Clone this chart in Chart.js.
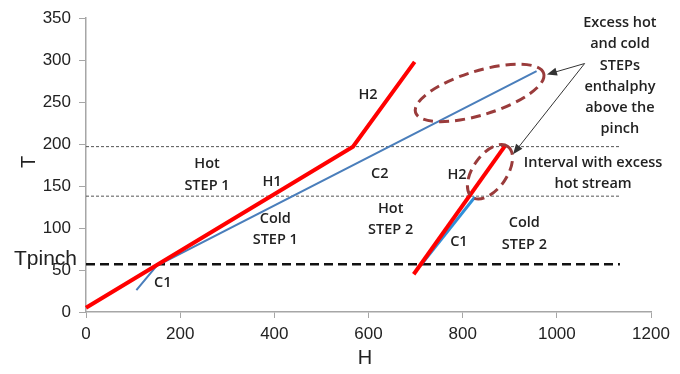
<!DOCTYPE html>
<html>
<head>
<meta charset="utf-8">
<script src="https://cdn.jsdelivr.net/npm/chart.js@4.4.1/dist/chart.umd.min.js"></script>
<style>
  html, body { margin: 0; padding: 0; background: #fff; }
  #wrap { width: 680px; height: 374px; }
</style>
</head>
<body>
<div id="wrap"><canvas id="chart" width="680" height="374"></canvas></div>
<script>
// Curvas calientes (H, T)
const hot1H = [0, 567, 698];
const hot1T = [5, 197, 298];
const hot2H = [696, 890];
const hot2T = [45, 198];
// Curvas frías (H, T)
const cold1H = [107, 150, 957];
const cold1T = [26, 55, 287];
const cold2H = [713, 826];
const cold2T = [57, 137];
// Líneas horizontales
const pinchT = 57;
const stepT = [138, 197];
const lineH = [0, 1134];
// Ticks de los ejes
const xTicks = [0, 200, 400, 600, 800, 1000, 1200];
const yTicks = [0, 50, 100, 150, 200, 250, 300, 350];

const pts = (hs, ts) => hs.map((h, i) => ({ x: h, y: ts[i] }));
const flat = t => lineH.map(h => ({ x: h, y: t }));

// Etiquetas de texto [líneas, H, T]
const labels = [
    [['Hot', 'STEP 1'], 257, 163.5],
    [['H1'], 395, 155],
    [['Cold', 'STEP 1'], 402, 98.6],
    [['C1'], 163, 35],
    [['H2'], 599, 259],
    [['C2'], 624, 165],
    [['H2'], 788, 163.5],
    [['Hot', 'STEP 2'], 647, 110],
    [['C1'], 792, 84],
    [['Cold', 'STEP 2'], 931, 93],
    [['Excess hot', 'and cold', 'STEPs', 'enthalphy', 'above the', 'pinch'], 1134, 281],
    [['Interval with excess', 'hot stream'], 1077, 165]
];

// Elipses [H, T, rx, ry, ángulo]
const ellipses = [
    [836, 261, 67, 22, -17],
    [858, 167, 31, 17, -55]
];
// Flechas [desde H, T, hasta H, T]
const arrows = [
    [1059, 296, 979, 283],
    [1059, 296, 907, 188]
];

const annotPlugin = {
    id: 'annot',
    afterDatasetsDraw(chart) {
        const ctx = chart.ctx;
        const xs = chart.scales.x, ys = chart.scales.y;
        const px = h => xs.getPixelForValue(h);
        const py = t => ys.getPixelForValue(t);
        ctx.save();

        // elipses punteadas
        ctx.strokeStyle = '#9a3b3b';
        ctx.lineWidth = 3;
        ctx.setLineDash([10, 6]);
        ellipses.forEach(e => {
            ctx.beginPath();
            ctx.ellipse(px(e[0]), py(e[1]), e[2], e[3], e[4] * Math.PI / 180, 0, Math.PI * 2);
            ctx.stroke();
        });
        ctx.setLineDash([]);

        // flechas
        ctx.strokeStyle = '#333';
        ctx.fillStyle = '#333';
        ctx.lineWidth = 1;
        arrows.forEach(a => {
            const x1 = px(a[0]), y1 = py(a[1]), x2 = px(a[2]), y2 = py(a[3]);
            const ang = Math.atan2(y2 - y1, x2 - x1);
            ctx.beginPath();
            ctx.moveTo(x1, y1);
            ctx.lineTo(x2 - 8 * Math.cos(ang), y2 - 8 * Math.sin(ang));
            ctx.stroke();
            ctx.beginPath();
            ctx.moveTo(x2, y2);
            ctx.lineTo(x2 - 10 * Math.cos(ang) + 4 * Math.sin(ang), y2 - 10 * Math.sin(ang) - 4 * Math.cos(ang));
            ctx.lineTo(x2 - 10 * Math.cos(ang) - 4 * Math.sin(ang), y2 - 10 * Math.sin(ang) + 4 * Math.cos(ang));
            ctx.closePath();
            ctx.fill();
        });

        // textos
        ctx.fillStyle = '#222';
        ctx.font = '600 14.5px "Open Sans"';
        ctx.textAlign = 'center';
        ctx.textBaseline = 'middle';
        labels.forEach(l => {
            const lines = l[0];
            const cy = py(l[2]) - (lines.length - 1) * 21.3 / 2;
            lines.forEach((s, i) => ctx.fillText(s, px(l[1]), cy + i * 21.3));
        });

        // Tpinch y títulos de ejes
        ctx.fillStyle = '#222';
        ctx.font = '21px "Liberation Sans"';
        ctx.textAlign = 'right';
        ctx.textBaseline = 'alphabetic';
        ctx.fillText('Tpinch', xs.left - 9, py(pinchT) + 1);
        ctx.textAlign = 'center';
        ctx.textBaseline = 'middle';
        ctx.font = '20px "Liberation Sans"';
        ctx.fillText('H', 365, 358);
        ctx.translate(29, 162);
        ctx.rotate(-Math.PI / 2);
        ctx.fillText('T', 0, 0);
        ctx.restore();
    }
};

const line = (data, color, width, dash) => ({
    data, borderColor: color, borderWidth: width, borderDash: dash || [],
    showLine: true, pointRadius: 0, fill: false, clip: false, tension: 0
});

new Chart(document.getElementById('chart'), {
    type: 'scatter',
    data: {
        datasets: [
            line(pts(hot1H, hot1T), '#ff0000', 4),
            line(pts(hot2H, hot2T), '#ff0000', 4),
            line(pts(cold2H, cold2T), '#2f8fd8', 3),
            line(pts(cold1H, cold1T), '#4a7ebb', 2),
            line(flat(pinchT), '#111', 2.5, [9, 5]),
            line(flat(stepT[0]), '#555', 1, [3, 2]),
            line(flat(stepT[1]), '#555', 1, [3, 2])
        ]
    },
    options: {
        responsive: false,
        animation: false,
        layout: { padding: { left: 0, right: 29, top: 15, bottom: 0 } },
        plugins: { legend: { display: false }, tooltip: { enabled: false } },
        scales: {
            x: {
                type: 'linear', min: 0, max: 1200,
                afterBuildTicks: s => { s.ticks = xTicks.map(v => ({ value: v })); },
                afterFit: s => { s.height = 62; },
                border: { display: true, color: '#a6a6a6', width: 1.5 },
                grid: { display: true, drawOnChartArea: false, drawTicks: true, tickLength: 6, color: '#a6a6a6' },
                ticks: { color: '#222', padding: 6, maxRotation: 0, callback: v => String(v), font: { family: 'Liberation Sans', size: 17 } }
            },
            y: {
                type: 'linear', min: 0, max: 350,
                afterBuildTicks: s => { s.ticks = yTicks.map(v => ({ value: v })); },
                afterFit: s => { s.width = 86; },
                border: { display: true, color: '#a6a6a6', width: 1.5 },
                grid: { display: true, drawOnChartArea: false, drawTicks: true, tickLength: 7, color: '#a6a6a6' },
                ticks: { color: '#222', padding: 8, callback: v => String(v), font: { family: 'Liberation Sans', size: 17 } }
            }
        }
    },
    plugins: [annotPlugin]
});
</script>
</body>
</html>
